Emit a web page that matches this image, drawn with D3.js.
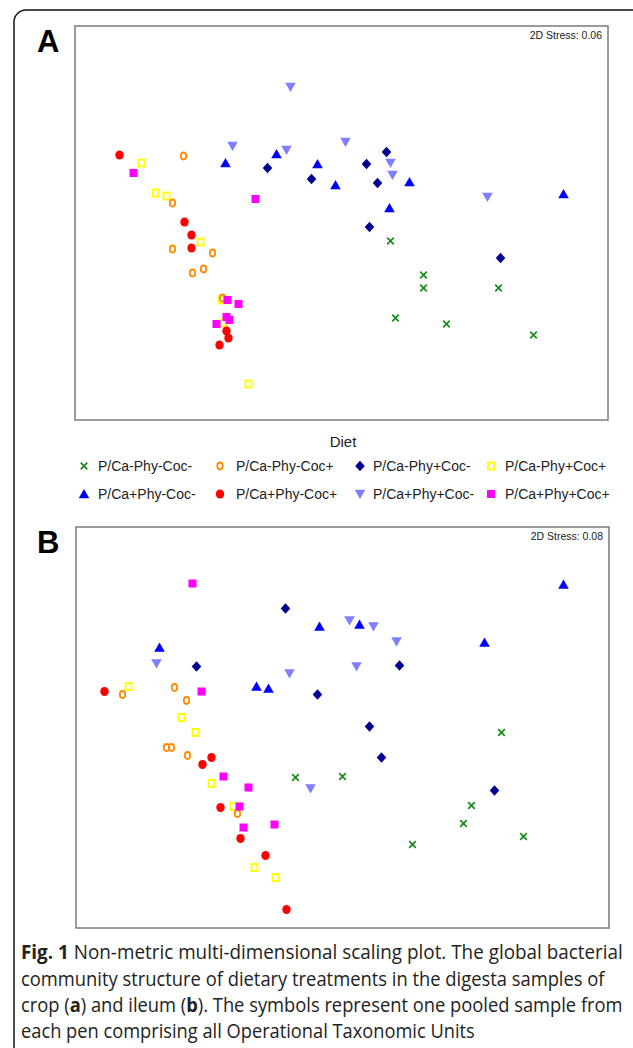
<!DOCTYPE html>
<html>
<head>
<meta charset="utf-8">
<script src="https://cdn.jsdelivr.net/npm/d3@7"></script>
<style>
  body { margin: 0; background: #fff; }
</style>
</head>
<body>
<div id="my_dataviz"></div>
<script>
  // treatments, in legend order
  var diets = ["P/Ca-Phy-Coc-", "P/Ca-Phy-Coc+", "P/Ca-Phy+Coc-", "P/Ca-Phy+Coc+",
               "P/Ca+Phy-Coc-", "P/Ca+Phy-Coc+", "P/Ca+Phy+Coc-", "P/Ca+Phy+Coc+"];
  var stress = ["0.06", "0.08"];

  // crop (panel A) NMDS scores, one list per diet (7 pens each)
  var cropX = [
    [0.49, 0.82, 0.82, 1.57, 0.54, 1.05, 1.92],
    [-1.58, -1.69, -1.69, -1.29, -1.38, -1.49, -1.19],
    [-0.74, -0.30, 0.45, 0.25, 0.36, 0.28, 1.59],
    [-2.00, -1.86, -1.75, -1.41, -1.20, -1.18, -0.93],
    [-1.16, -0.65, -0.24, -0.06, 0.68, 0.48, 2.22],
    [-2.22, -1.57, -1.50, -1.50, -1.15, -1.13, -1.22],
    [-0.51, -1.09, -0.55, 0.04, 0.49, 0.51, 1.46],
    [-2.08, -0.86, -1.14, -1.03, -1.15, -1.12, -1.25]
  ];
  var cropY = [
    [-0.18, -0.52, -0.65, -0.65, -0.95, -1.01, -1.12],
    [0.67, 0.20, -0.26, -0.30, -0.46, -0.50, -0.75],
    [0.55, 0.44, 0.71, 0.59, 0.40, -0.04, -0.35],
    [0.60, 0.30, 0.27, -0.19, -0.77, -1.00, -1.61],
    [0.60, 0.69, 0.59, 0.38, 0.41, 0.15, 0.29],
    [0.68, 0.01, -0.12, -0.25, -1.08, -1.15, -1.22],
    [1.36, 0.77, 0.73, 0.81, 0.60, 0.48, 0.26],
    [0.50, 0.24, -0.77, -0.81, -0.94, -0.97, -1.01]
  ];

  // ileum (panel B) NMDS scores
  var ileumX = [
    [-0.47, 0.00, 1.59, 1.29, 1.21, 1.81, 0.70],
    [-2.20, -1.68, -1.56, -1.76, -1.71, -1.55, -1.05],
    [-0.57, -1.46, -0.25, 0.57, 0.27, 0.39, 1.52],
    [-2.14, -1.61, -1.47, -1.31, -1.09, -0.88, -0.67],
    [-1.83, -0.23, 0.17, -0.86, -0.74, 2.21, 1.42],
    [-2.38, -1.31, -1.40, -1.22, -1.02, -0.77, -0.56],
    [-1.86, -0.53, 0.07, 0.31, 0.54, 0.14, -0.32],
    [-1.50, -1.41, -1.19, -0.94, -1.03, -0.68, -0.99]
  ];
  var ileumY = [
    [-0.50, -0.49, -0.05, -0.78, -0.96, -1.09, -1.17],
    [0.33, 0.40, 0.27, -0.20, -0.20, -0.28, -0.86],
    [1.19, 0.61, 0.33, 0.62, 0.01, -0.30, -0.63],
    [0.41, 0.10, -0.05, -0.56, -0.79, -1.40, -1.50],
    [0.80, 1.01, 1.03, 0.41, 0.39, 1.43, 0.85],
    [0.36, -0.30, -0.37, -0.80, -1.11, -1.28, -1.82],
    [0.64, 0.54, 1.07, 1.01, 0.86, 0.61, -0.61],
    [1.44, 0.36, -0.49, -0.60, -0.79, -0.97, -1.00]
  ];

  var captionLines = [
    "Non-metric multi-dimensional scaling plot. The global bacterial",
    "community structure of dietary treatments in the digesta samples of",
    "crop (|a|) and ileum (|b|). The symbols represent one pooled sample from",
    "each pen comprising all Operational Taxonomic Units"
  ];

  var width = 633, height = 1048;

  var svg = d3.select("#my_dataviz").append("svg")
      .attr("width", width)
      .attr("height", height)
      .style("display", "block");

  // outer frame with rounded top-left corner
  svg.append("path")
      .attr("d", "M14,1060 V22 A12,12 0 0 1 26,10 H650")
      .attr("fill", "none")
      .attr("stroke", "#111")
      .attr("stroke-width", 1.5);

  // symbol for each diet
  function drawSymbol(g, i, cx, cy) {
    var t = "translate(" + cx + "," + cy + ")";
    if (i === 0) {
      g.append("path").attr("transform", t)
        .attr("d", "M-3.3,-3.3L3.3,3.3M-3.3,3.3L3.3,-3.3")
        .attr("stroke", "#1a8a1a").attr("stroke-width", 1.7).attr("fill", "none");
    } else if (i === 1) {
      g.append("ellipse").attr("transform", t)
        .attr("rx", 2.7).attr("ry", 3.5)
        .attr("fill", "none").attr("stroke", "#ff8a00").attr("stroke-width", 1.8);
    } else if (i === 2) {
      g.append("path").attr("transform", t)
        .attr("d", "M0,-5.2L4.8,0L0,5.2L-4.8,0Z").attr("fill", "#000090");
    } else if (i === 3) {
      g.append("rect").attr("transform", t)
        .attr("x", -3).attr("y", -3.5).attr("width", 6).attr("height", 7)
        .attr("fill", "none").attr("stroke", "#ffff00").attr("stroke-width", 1.9);
    } else if (i === 4) {
      g.append("path").attr("transform", t)
        .attr("d", "M0,-5L5.3,4.2L-5.3,4.2Z").attr("fill", "#0000ff");
    } else if (i === 5) {
      g.append("ellipse").attr("transform", t)
        .attr("rx", 4.2).attr("ry", 4.5).attr("fill", "#ff0000");
    } else if (i === 6) {
      g.append("path").attr("transform", t)
        .attr("d", "M-5.3,-4.2L5.3,-4.2L0,5Z").attr("fill", "#7f7fff");
    } else {
      g.append("rect").attr("transform", t)
        .attr("x", -4).attr("y", -4).attr("width", 8).attr("height", 8)
        .attr("fill", "#ff00ff");
    }
  }

  var drawOrder = [3, 0, 1, 2, 4, 5, 6, 7];

  var panels = [
    {label: "A", left: 75, right: 608, top: 26, bottom: 420, xs: cropX, ys: cropY, stress: stress[0], yMax: 1.97},
    {label: "B", left: 76, right: 609, top: 527, bottom: 928, xs: ileumX, ys: ileumY, stress: stress[1], yMax: 2.005}
  ];

  panels.forEach(function(p) {
    var x = d3.scaleLinear().domain([-2.665, 2.665]).range([p.left, p.right]);
    var y = d3.scaleLinear().domain([-p.yMax, p.yMax]).range([p.bottom, p.top]);

    svg.append("rect")
        .attr("x", p.left).attr("y", p.top)
        .attr("width", p.right - p.left).attr("height", p.bottom - p.top)
        .attr("fill", "#fff").attr("stroke", "#7a7a7a").attr("stroke-width", 1.5);

    svg.append("text")
        .attr("x", 37).attr("y", p.top + 26)
        .attr("font-family", "Liberation Sans, Arial, sans-serif")
        .attr("font-weight", "bold").attr("font-size", 31)
        .text(p.label);

    svg.append("text")
        .attr("x", p.right - 6).attr("y", p.top + 13)
        .attr("text-anchor", "end")
        .attr("font-family", "Liberation Sans, Arial, sans-serif")
        .attr("font-size", 10.5).attr("fill", "#222")
        .text("2D Stress: " + p.stress);

    var g = svg.append("g");
    drawOrder.forEach(function(i) {
      p.xs[i].forEach(function(v, k) {
        drawSymbol(g, i, x(v), y(p.ys[i][k]));
      });
    });
  });

  // legend
  var legSymX = [84, 220, 360, 491],
      legTextX = [98, 236, 373, 505],
      legRowY = [466, 494];

  svg.append("text")
      .attr("x", 343).attr("y", 447)
      .attr("text-anchor", "middle")
      .attr("font-family", "Liberation Sans, Arial, sans-serif")
      .attr("font-size", 15).attr("fill", "#222")
      .text("Diet");

  var leg = svg.append("g");
  diets.forEach(function(d, i) {
    var col = i % 4, row = Math.floor(i / 4);
    drawSymbol(leg, i, legSymX[col], legRowY[row]);
    leg.append("text")
        .attr("x", legTextX[col]).attr("y", legRowY[row] + 5)
        .attr("font-family", "Liberation Sans, Arial, sans-serif")
        .attr("font-size", 14).attr("fill", "#222")
        .text(d);
  });

  // caption, each line squeezed to the width it has in the figure
  var capY = [959, 986, 1012, 1038],
      capRight = [623, 605, 623, 475];

  captionLines.forEach(function(line, i) {
    var t = svg.append("text")
        .attr("font-family", "Open Sans, Noto Sans, sans-serif")
        .attr("font-size", 20).attr("fill", "#222");
    if (i === 0) {
      t.append("tspan").attr("font-weight", "bold").text("Fig. 1 ");
    }
    line.split("|").forEach(function(part, k) {
      var s = t.append("tspan").text(part);
      if (k % 2 === 1) s.attr("font-weight", "bold");
    });
    var w = t.node().getComputedTextLength();
    t.attr("transform", "translate(21," + capY[i] + ") scale(" + ((capRight[i] - 21) / w) + ",1)");
  });
</script>
</body>
</html>
